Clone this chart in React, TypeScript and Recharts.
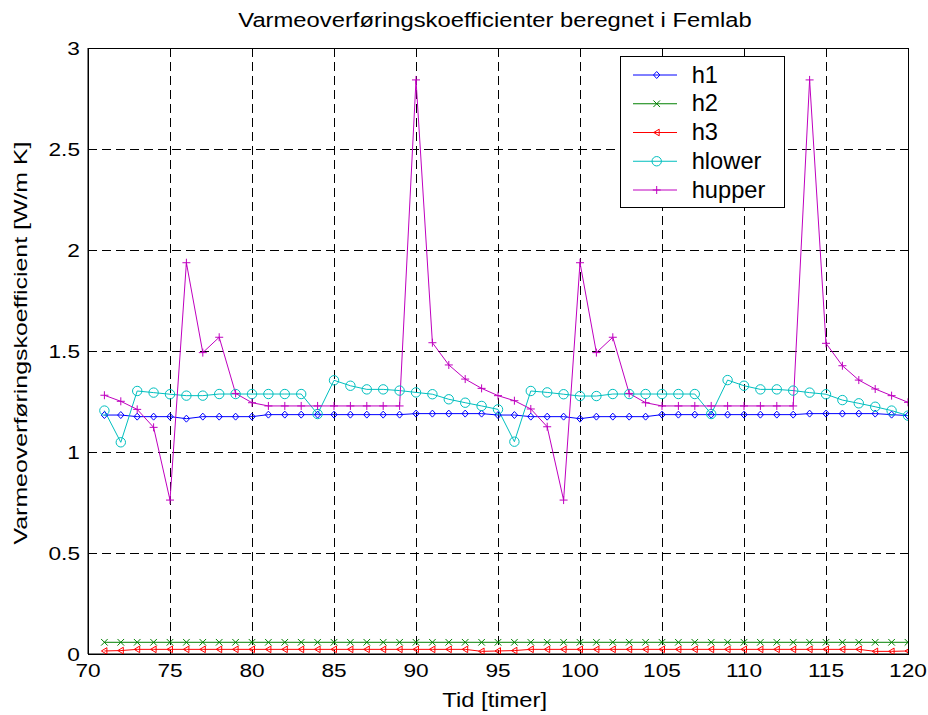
import React from 'react'
import { LineChart, Line, XAxis, YAxis, CartesianGrid, ReferenceArea } from 'recharts'

// tid [timer]
const hours = [
  71, 72, 73, 74, 75, 76, 77, 78, 79, 80,
  81, 82, 83, 84, 85, 86, 87, 88, 89, 90,
  91, 92, 93, 94, 95, 96, 97, 98, 99, 100,
  101, 102, 103, 104, 105, 106, 107, 108, 109, 110,
  111, 112, 113, 114, 115, 116, 117, 118, 119, 120,
]

const h1 = [
  1.183, 1.183, 1.175, 1.175, 1.175, 1.165, 1.175, 1.175, 1.175, 1.175,
  1.185, 1.185, 1.185, 1.185, 1.185, 1.185, 1.185, 1.185, 1.185, 1.19,
  1.19, 1.19, 1.19, 1.19, 1.183, 1.183, 1.175, 1.175, 1.175, 1.165,
  1.175, 1.175, 1.175, 1.175, 1.185, 1.185, 1.185, 1.185, 1.185, 1.185,
  1.185, 1.185, 1.185, 1.19, 1.19, 1.19, 1.19, 1.19, 1.185, 1.18,
]

const h2 = [
  0.058, 0.058, 0.058, 0.058, 0.058, 0.058, 0.058, 0.058, 0.058, 0.058,
  0.058, 0.058, 0.058, 0.058, 0.058, 0.058, 0.058, 0.058, 0.058, 0.058,
  0.058, 0.058, 0.058, 0.058, 0.058, 0.058, 0.058, 0.058, 0.058, 0.058,
  0.058, 0.058, 0.058, 0.058, 0.058, 0.058, 0.058, 0.058, 0.058, 0.058,
  0.058, 0.058, 0.058, 0.058, 0.058, 0.058, 0.058, 0.058, 0.058, 0.058,
]

const h3 = [
  0.015, 0.017, 0.023, 0.023, 0.023, 0.023, 0.023, 0.023, 0.023, 0.023,
  0.023, 0.023, 0.023, 0.023, 0.023, 0.023, 0.023, 0.023, 0.023, 0.023,
  0.023, 0.023, 0.023, 0.013, 0.015, 0.017, 0.023, 0.023, 0.023, 0.023,
  0.023, 0.023, 0.023, 0.023, 0.023, 0.023, 0.023, 0.023, 0.023, 0.023,
  0.023, 0.023, 0.023, 0.023, 0.023, 0.023, 0.023, 0.013, 0.013, 0.015,
]

const hlower = [
  1.205, 1.048, 1.302, 1.294, 1.286, 1.279, 1.279, 1.287, 1.287, 1.287,
  1.287, 1.287, 1.287, 1.188, 1.355, 1.328, 1.31, 1.31, 1.304, 1.295,
  1.286, 1.261, 1.244, 1.228, 1.211, 1.051, 1.302, 1.295, 1.286, 1.277,
  1.277, 1.287, 1.287, 1.287, 1.287, 1.287, 1.287, 1.188, 1.356, 1.328,
  1.31, 1.31, 1.304, 1.294, 1.286, 1.257, 1.241, 1.224, 1.205, 1.18,
]

const hupper = [
  1.281, 1.251, 1.211, 1.122, 0.762, 1.937, 1.492, 1.568, 1.29, 1.244,
  1.228, 1.228, 1.228, 1.228, 1.228, 1.228, 1.228, 1.228, 1.228, 2.842,
  1.541, 1.431, 1.361, 1.315, 1.279, 1.254, 1.213, 1.125, 0.762, 1.937,
  1.492, 1.568, 1.29, 1.244, 1.228, 1.228, 1.228, 1.228, 1.228, 1.228,
  1.228, 1.228, 1.228, 2.842, 1.538, 1.427, 1.356, 1.312, 1.279, 1.246,
]

const xTicks = [70, 75, 80, 85, 90, 95, 100, 105, 110, 115, 120]
const yTicks = [0, 0.5, 1, 1.5, 2, 2.5, 3]

const data = hours.map((t, i) => ({
  t,
  h1: h1[i],
  h2: h2[i],
  h3: h3[i],
  hlower: hlower[i],
  hupper: hupper[i],
}))

type Shape = 'diamond' | 'x' | 'triangle' | 'circle' | 'plus'

const series: { key: string; color: string; shape: Shape }[] = [
  { key: 'h1', color: '#0000ff', shape: 'diamond' },
  { key: 'h2', color: '#008000', shape: 'x' },
  { key: 'h3', color: '#ff0000', shape: 'triangle' },
  { key: 'hlower', color: '#00bfbf', shape: 'circle' },
  { key: 'hupper', color: '#bf00bf', shape: 'plus' },
]

const FONT = '"Liberation Sans", Arial, Helvetica, sans-serif'
const SX = 1.22 // matlab export is stretched sideways

function Marker({ shape, cx, cy, color }: { shape: Shape; cx: number; cy: number; color: string }) {
  const p = { stroke: color, strokeWidth: 1, fill: 'none' }
  switch (shape) {
    case 'diamond':
      return <path d={`M${cx},${cy - 3.5}L${cx + 3.2},${cy}L${cx},${cy + 3.5}L${cx - 3.2},${cy}Z`} {...p} />
    case 'x':
      return <path d={`M${cx - 3.3},${cy - 3.3}L${cx + 3.3},${cy + 3.3}M${cx - 3.3},${cy + 3.3}L${cx + 3.3},${cy - 3.3}`} {...p} />
    case 'triangle':
      return <path d={`M${cx - 3},${cy}L${cx + 2.5},${cy - 3.3}L${cx + 2.5},${cy + 3.3}Z`} {...p} />
    case 'circle':
      return <circle cx={cx} cy={cy} r={4.7} {...p} />
    default:
      return <path d={`M${cx - 4},${cy}L${cx + 4},${cy}M${cx},${cy - 4}L${cx},${cy + 4}`} {...p} />
  }
}

const makeDot = (shape: Shape, color: string) => (props: any) => {
  if (props.cx == null || props.cy == null) return <g key={props.index} />
  return <Marker key={props.index} shape={shape} cx={props.cx} cy={props.cy} color={color} />
}

const XTick = ({ x, y, payload }: any) => (
  <g transform={`translate(${x},${y}) scale(${SX},1)`}>
    <text textAnchor="middle" fontSize={18.6} fontFamily={FONT} fill="#000">{payload.value}</text>
  </g>
)

const YTick = ({ x, y, payload }: any) => (
  <g transform={`translate(${x},${y + 6.7}) scale(${SX},1)`}>
    <text textAnchor="end" fontSize={18.6} fontFamily={FONT} fill="#000">{payload.value}</text>
  </g>
)

export default function App() {
  return (
    <div style={{ position: 'absolute', left: 0, top: 0, width: 928, height: 715, background: '#fff' }}>
      <LineChart width={928} height={715} data={data} margin={{ top: 48, right: 20, bottom: 0, left: 0 }}>
        <CartesianGrid stroke="#000" strokeDasharray="9 5" shapeRendering="crispEdges" />
        <XAxis
          dataKey="t"
          type="number"
          domain={[70, 120]}
          ticks={xTicks}
          height={61}
          tickSize={0}
          tickMargin={23}
          tickLine={false}
          axisLine={{ stroke: '#000' }}
          tick={<XTick />}
          allowDataOverflow
        />
        <YAxis
          type="number"
          domain={[0, 3]}
          ticks={yTicks}
          width={88}
          tickSize={0}
          tickMargin={8}
          tickLine={false}
          axisLine={{ stroke: '#000' }}
          tick={<YTick />}
          allowDataOverflow
        />
        <ReferenceArea
          x1={70}
          x2={120}
          y1={0}
          y2={3}
          fill="none"
          fillOpacity={0}
          stroke="#000"
          strokeWidth={1}
          shapeRendering="crispEdges"
        />
        {series.map((s) => (
          <Line
            key={s.key}
            dataKey={s.key}
            stroke={s.color}
            strokeWidth={1}
            dot={makeDot(s.shape, s.color)}
            activeDot={false}
            isAnimationActive={false}
          />
        ))}

        {/* title and axis labels */}
        <g transform={`translate(495,27.3) scale(${SX},1)`}>
          <text textAnchor="middle" fontSize={19.5} fontFamily={FONT} fill="#000">
            Varmeoverføringskoefficienter beregnet i Femlab
          </text>
        </g>
        <g transform={`translate(494.7,706.7) scale(${SX},1)`}>
          <text textAnchor="middle" fontSize={19.5} fontFamily={FONT} fill="#000">Tid [timer]</text>
        </g>
        <text
          transform="translate(26.7,343) rotate(-90)"
          textAnchor="middle"
          fontSize={18.6}
          fontFamily={FONT}
          fill="#000"
          textLength={403}
          lengthAdjust="spacingAndGlyphs"
        >
          Varmeoverføringskoefficient [W/m K]
        </text>

        {/* legend */}
        <g>
          <rect x={620.5} y={56.5} width={164} height={151} fill="#fff" stroke="#000" strokeWidth={1} />
          {series.map((s, i) => {
            const cy = 75 + i * 28.75
            return (
              <g key={s.key}>
                <line x1={633} x2={677} y1={cy} y2={cy} stroke={s.color} strokeWidth={1} />
                <Marker shape={s.shape} cx={656.7} cy={cy} color={s.color} />
                <g transform={`translate(691.7,${cy + 7.7}) scale(1.03,1)`}>
                  <text fontSize={23} fontFamily={FONT} fill="#000">{s.key}</text>
                </g>
              </g>
            )
          })}
        </g>
      </LineChart>
    </div>
  )
}
